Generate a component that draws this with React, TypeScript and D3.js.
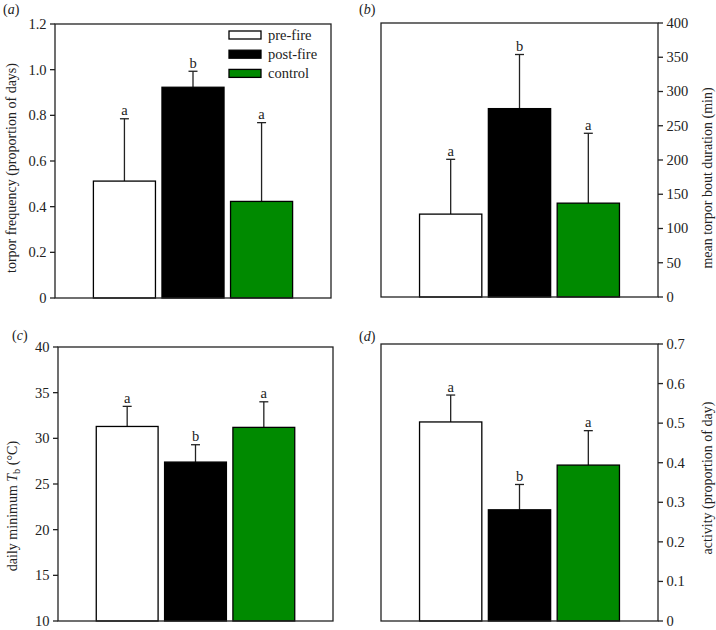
import React from "react";
import * as d3 from "d3";

const groups = ["pre-fire", "post-fire", "control"];
const fills = ["#ffffff", "#000000", "#008a00"];

const torporFreq = [0.512, 0.923, 0.423];
const torporFreqErr = [0.273, 0.07, 0.345];
const torporLetters = ["a", "b", "a"];
const torporTicks = [0, 0.2, 0.4, 0.6, 0.8, 1.0, 1.2];

const boutDur = [121, 275, 137];
const boutDurErr = [80, 79, 102];
const boutLetters = ["a", "b", "a"];
const boutTicks = [0, 50, 100, 150, 200, 250, 300, 350, 400];

const minTb = [31.3, 27.4, 31.2];
const minTbErr = [2.2, 1.9, 2.8];
const tbLetters = ["a", "b", "a"];
const tbTicks = [10, 15, 20, 25, 30, 35, 40];

const activity = [0.503, 0.281, 0.394];
const activityErr = [0.068, 0.064, 0.087];
const actLetters = ["a", "b", "a"];
const actTicks = [0, 0.1, 0.2, 0.3, 0.4, 0.5, 0.6, 0.7];

const FONT = "'Liberation Serif', 'Times New Roman', serif";
const AX = "#222";

type PanelProps = {
  x0: number; x1: number; y0: number; y1: number;
  domain: [number, number];
  ticks: number[];
  fmt: (d: number) => string;
  values: number[]; errs: number[]; letters: string[];
  side: "left" | "right";
  tag: string; tagX: number; tagY: number;
  label: React.ReactNode; labelX: number; labelY: number;
  legend?: boolean;
};

function Panel(p: PanelProps) {
  const x = d3.scaleBand<string>().domain(groups).range([p.x0, p.x1]).paddingInner(0.095).paddingOuter(0.56);
  const y = d3.scaleLinear().domain(p.domain).range([p.y1, p.y0]);
  const bw = x.bandwidth();
  const tickDir = p.side === "left" ? -1 : 1;
  const axX = p.side === "left" ? p.x0 : p.x1;
  return (
    <g>
      {groups.map((g, i) => {
        const cx = (x(g) as number) + bw / 2;
        const top = y(p.values[i]);
        const et = y(p.values[i] + p.errs[i]);
        return (
          <g key={g}>
            <line x1={cx} x2={cx} y1={top} y2={et} stroke={AX} strokeWidth={1.3} />
            <line x1={cx - 4.5} x2={cx + 4.5} y1={et} y2={et} stroke={AX} strokeWidth={1.3} />
            <rect x={x(g)} y={top} width={bw} height={p.y1 - top} fill={fills[i]} stroke="#000" strokeWidth={1.3} />
            <text x={cx} y={et - 3.5} textAnchor="middle" fontSize={14.5} fontFamily={FONT} fill="#222">{p.letters[i]}</text>
          </g>
        );
      })}
      <rect x={p.x0} y={p.y0} width={p.x1 - p.x0} height={p.y1 - p.y0} fill="none" stroke={AX} strokeWidth={1.3} />
      {p.ticks.map((t) => (
        <g key={t}>
          <line x1={axX} x2={axX + tickDir * 5} y1={y(t)} y2={y(t)} stroke={AX} strokeWidth={1.3} />
          <text x={axX + tickDir * 8.5} y={y(t)} dy="0.34em" textAnchor={p.side === "left" ? "end" : "start"}
            fontSize={14.5} fontFamily={FONT} fill="#222">{p.fmt(t)}</text>
        </g>
      ))}
      <text x={p.tagX} y={p.tagY} fontSize={14} fontFamily={FONT} fill="#222">
        (<tspan fontStyle="italic">{p.tag}</tspan>)
      </text>
      <text transform={`translate(${p.labelX},${p.labelY}) rotate(-90)`} textAnchor="middle" fontSize={14} fontFamily={FONT} fill="#222">
        {p.label}
      </text>
      {p.legend && groups.map((g, i) => (
        <g key={"lg" + g}>
          <rect x={229} y={31 + i * 19.2} width={32} height={8} fill={fills[i]} stroke="#000" strokeWidth={1.3} />
          <text x={268} y={35 + i * 19.2} dy="0.34em" fontSize={14.5} fontFamily={FONT} fill="#222">{g}</text>
        </g>
      ))}
    </g>
  );
}

const fmt1 = (d: number) => (d === 0 ? "0" : d.toFixed(1));
const fmt0 = (d: number) => String(d);

export default function App() {
  return (
    <svg width={716} height={630} style={{ position: "absolute", left: 0, top: 0, background: "#fff" }}>
      <rect width={716} height={630} fill="#fff" />
      <Panel x0={55} x1={331} y0={24} y1={298} domain={[0, 1.2]} ticks={torporTicks} fmt={fmt1}
        values={torporFreq} errs={torporFreqErr} letters={torporLetters} side="left"
        tag="a" tagX={3} tagY={14} label="torpor frequency (proportion of days)" labelX={16} labelY={168} legend />
      <Panel x0={381} x1={658} y0={23} y1={297} domain={[0, 400]} ticks={boutTicks} fmt={fmt0}
        values={boutDur} errs={boutDurErr} letters={boutLetters} side="right"
        tag="b" tagX={359} tagY={14} label="mean torpor bout duration (min)" labelX={712} labelY={178} />
      <Panel x0={58} x1={333} y0={347} y1={621} domain={[10, 40]} ticks={tbTicks} fmt={fmt0}
        values={minTb} errs={minTbErr} letters={tbLetters} side="left"
        tag="c" tagX={12} tagY={340}
        label={<>daily minimum <tspan fontStyle="italic">T</tspan><tspan fontSize={10.5} dy={3}>b</tspan><tspan dy={-3}> (°C)</tspan></>}
        labelX={17} labelY={506} />
      <Panel x0={381} x1={658} y0={344} y1={621} domain={[0, 0.7]} ticks={actTicks} fmt={fmt1}
        values={activity} errs={activityErr} letters={actLetters} side="right"
        tag="d" tagX={359} tagY={341} label="activity (proportion of day)" labelX={712} labelY={478} />
    </svg>
  );
}
